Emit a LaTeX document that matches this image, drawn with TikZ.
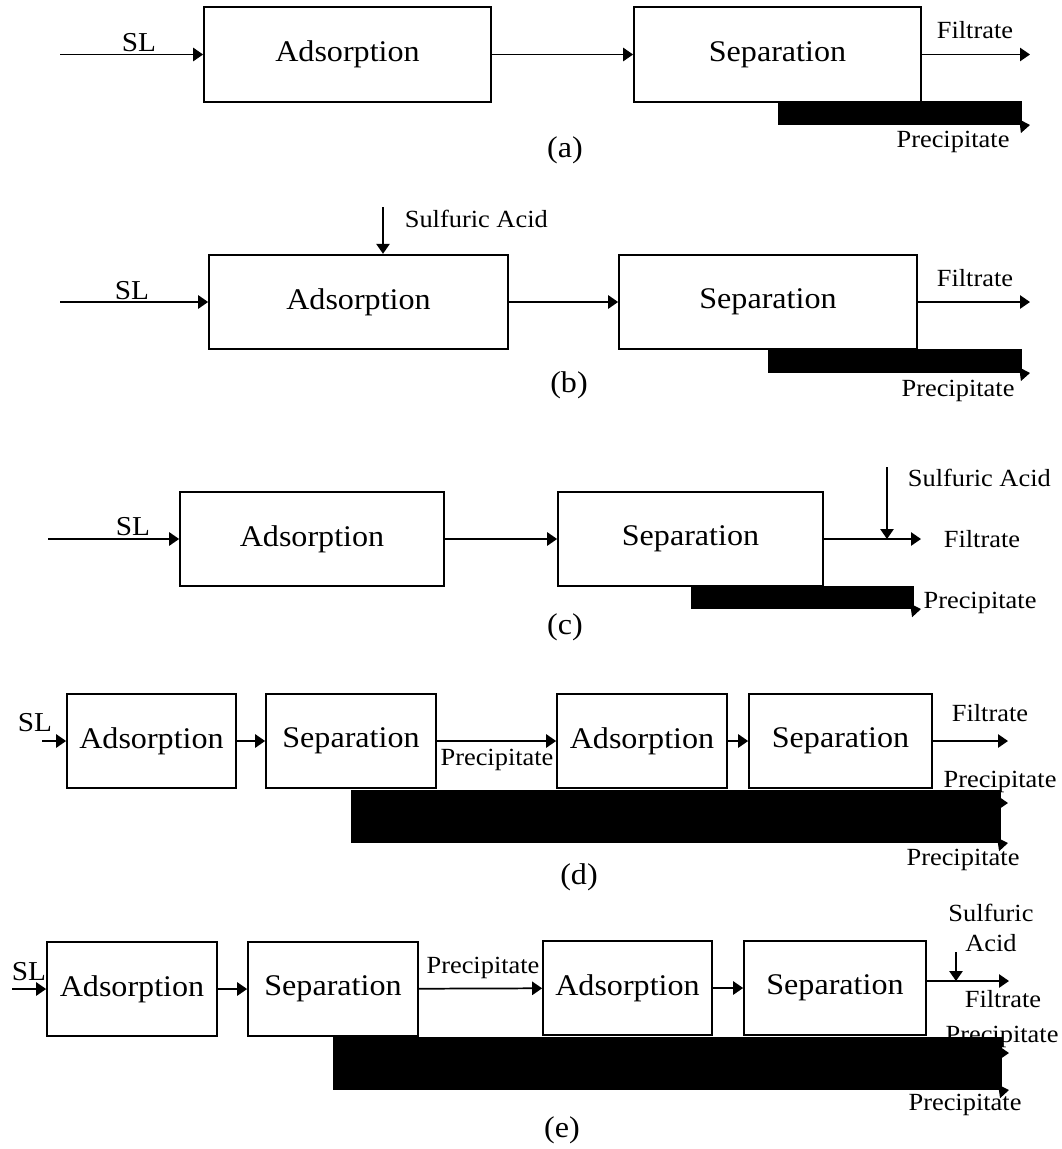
\documentclass[tikz,border=0pt]{standalone}
\usepackage{fontspec}
\setmainfont[FakeStretch=1.07]{Liberation Serif}
\usetikzlibrary{arrows.meta}

\begin{document}
\begin{tikzpicture}[x=0.75pt,y=-0.75pt,line width=1.3pt,
  >={Triangle[length=7.5pt,width=10pt]},
  box/.style={draw,inner sep=0pt,minimum height=71pt,font=\fontsize{22.5}{27}\selectfont},
  bar/.style={fill=black,inner sep=0pt},
  lbl/.style={inner sep=0pt,font=\fontsize{18.5}{23}\selectfont},
  sl/.style={inner sep=0pt,font=\fontsize{20.5}{25}\selectfont},
  panel/.style={inner sep=0pt,font=\fontsize{22.5}{27}\selectfont}]
 % \draw[help lines] (0,0) grid (1062,1149);
  \useasboundingbox (0,0) rectangle (1062,1149);

  % (a)
  \coordinate (a0) at (60,54.5);
  \node[box,minimum width=215.25pt] (a1) at (347.5,54.5) {Adsorption};
  \node[box,minimum width=215.25pt] (a2) at (777.5,54.5) {Separation};
  \coordinate (a3) at (1030,54.5);
  \node[bar,minimum width=183pt,minimum height=18pt] (a4) at (900,113) {};
  \coordinate (a5) at (1030,125);
  \node[sl] (asl) at (139,43) {SL};
  \node[lbl] (afil) at (975,30) {Filtrate};
  \node[lbl] (apre) at (953,142) {Precipitate};
  \node[panel] (acap) at (565,150) {(a)};
  \path[->] (a0) edge (a1)
            (a1) edge (a2)
            (a2) edge (a3)
            (a4.south east) edge (a5);

  % (b)
  \coordinate (b0) at (60,302);
  \node[box,minimum width=224.25pt] (b1) at (358.5,302) {Adsorption};
  \node[box,minimum width=223.5pt] (b2) at (768,302) {Separation};
  \coordinate (b3) at (1030,302);
  \node[bar,minimum width=190.5pt,minimum height=18pt] (b4) at (895,361) {};
  \coordinate (b5) at (1030,373);
  \coordinate (b6) at (383,207);
  \node[sl] (bsl) at (132,291) {SL};
  \node[lbl,anchor=west] (bacid) at (404,219) {Sulfuric Acid};
  \node[lbl] (bfil) at (975,278) {Filtrate};
  \node[lbl] (bpre) at (958,391) {Precipitate};
  \node[panel] (bcap) at (569,385) {(b)};
  \path[->] (b0) edge (b1)
            (b1) edge (b2)
            (b2) edge (b3)
            (b6) edge (b6 |- b1.north)
            (b4.south east) edge (b5);

  % (c)
  \coordinate (c0) at (48,539);
  \node[box,minimum width=198pt] (c1) at (312,539) {Adsorption};
  \node[box,minimum width=198.75pt] (c2) at (690.5,539) {Separation};
  \coordinate (c3) at (921,539);
  \node[bar,minimum width=167.25pt,minimum height=17.25pt] (c4) at (802.5,597.5) {};
  \coordinate (c5) at (921,609);
  \coordinate (c6) at (887,467);
  \node[sl] (csl) at (133,527) {SL};
  \node[lbl,anchor=west] (cacid) at (907,478) {Sulfuric Acid};
  \node[lbl] (cfil) at (982,539) {Filtrate};
  \node[lbl] (cpre) at (980,603) {Precipitate};
  \node[panel] (ccap) at (565,627) {(c)};
  \path[->] (c0) edge (c1)
            (c1) edge (c2)
            (c2) edge (c3)
            (c6) edge (c6 |- c3)
            (c4.south east) edge (c5);

  % (d)
  \coordinate (d0) at (42,741);
  \node[box,minimum width=126.75pt] (d1) at (151.5,741) {Adsorption};
  \node[box,minimum width=127.5pt] (d2) at (351,741) {Separation};
  \node[box,minimum width=127.5pt] (d3) at (642,741) {Adsorption};
  \node[box,minimum width=137.25pt] (d4) at (840.5,741) {Separation};
  \coordinate (d5) at (1008,741);
  \node[sl] (dsl) at (35,723) {SL};
  \node[lbl] (dmid) at (497,760) {Precipitate};
  \node[lbl] (dfil) at (990,713) {Filtrate};
  \node[lbl] (dpre1) at (1000,782) {Precipitate};
  \node[bar,minimum width=487.5pt,minimum height=39.75pt] (d6) at (676,816.5) {};
  \coordinate (d7) at (1008,803);
  \coordinate (d8) at (1008,843);
  \node[lbl] (dpre2) at (963,860) {Precipitate};
  \node[panel] (dcap) at (579,877) {(d)};
  \path[->] (d0) edge (d1)
            (d1) edge (d2)
            (d2) edge (d3)
            (d3) edge (d4)
            (d4) edge (d5)
            (d6.east |- d7) edge (d7)
            (d6.south east) edge (d8);

  % (e)
  \coordinate (e0) at (12,989);
  \node[box,minimum width=127.5pt] (e1) at (132,989) {Adsorption};
  \node[box,minimum width=127.5pt] (e2) at (333,989) {Separation};
  \node[box,minimum width=126.75pt] (e3) at (627.5,988) {Adsorption};
  \node[box,minimum width=136.5pt] (e4) at (835,988) {Separation};
  \coordinate (e5) at (1009,981);
  \coordinate (e6) at (956,952);
  \node[sl] (esl) at (29,972) {SL};
  \node[lbl] (emid) at (483,968) {Precipitate};
  \node[lbl,align=center] (eacid) at (991,928) {Sulfuric\\Acid};
  \node[lbl] (efil) at (1003,999) {Filtrate};
  \node[lbl] (epre1) at (1002,1037) {Precipitate};
  \node[bar,minimum width=501.75pt,minimum height=39.75pt] (e7) at (667.5,1063.5) {};
  \coordinate (e8) at (1009,1053);
  \coordinate (e9) at (1009,1090);
  \node[lbl] (epre2) at (965,1105) {Precipitate};
  \node[panel] (ecap) at (562,1130) {(e)};
  \path[->] (e0) edge (e1)
            (e1) edge (e2)
            (e2) edge (e3)
            (e3) edge (e4)
            (e4.east |- e5) edge (e5)
            (e6) edge (e6 |- e5)
            (e7.east |- e8) edge (e8)
            (e7.south east) edge (e9);
\end{tikzpicture}
\end{document}
